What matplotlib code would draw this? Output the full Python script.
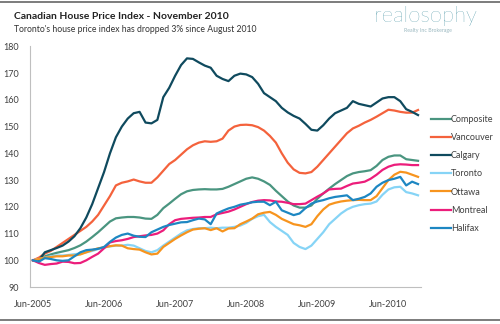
import numpy as np
import matplotlib
matplotlib.use("Agg")
from matplotlib import pyplot as plt
from matplotlib.lines import Line2D

plt.rcParams['font.family'] = ['Lato', 'DejaVu Sans']

# monthly index, Jun-2005 .. Nov-2010 (66 months), Jun-2005 = 100
composite = [100, 100.5, 101.5, 102.2, 102.8, 103.3, 103.8, 104.6, 105.6, 107, 108.7, 110.5,
             112.5, 114.5, 115.7, 116, 116.2, 116.2, 116, 115.6, 115.5, 117, 119.5, 121.2,
             123, 124.7, 125.8, 126.3, 126.5, 126.6, 126.5, 126.5, 126.7, 127.5, 128.5, 129.5,
             130.5, 131, 130.5, 129.5, 128.2, 126, 124, 122, 120.5, 119.7, 119.7, 120.5,
             123, 125, 126.8, 128.5, 130, 131.5, 132.5, 133, 133.3, 133.7, 135.3, 137.5,
             138.7, 139.2, 139.2, 137.8, 137.5, 137.2]
vancouver = [100, 101, 102.5, 103.5, 105, 106.5, 108, 109.5, 111, 112.5, 114.5, 117,
             120.5, 124, 128, 129, 129.5, 130.2, 129.5, 129, 129, 131, 133.5, 136,
             137.5, 139.5, 141.5, 143, 144, 144.5, 144.3, 144.5, 145.5, 148.5, 150, 150.6,
             150.7, 150.5, 149.8, 148.5, 146.5, 144, 140, 136.5, 134, 132.7, 132.5, 133,
             135, 137.5, 140, 142.5, 145, 147.5, 149.3, 150.3, 151.5, 152.5, 153.7, 155,
             156.3, 156, 155.5, 155.2, 155.2, 156.2]
calgary = [100, 100, 103, 103.8, 104.6, 105.5, 107, 109, 112, 116, 121, 127,
           133, 140, 146, 150, 153, 155, 155.5, 151.5, 151.2, 152.5, 161, 164.5,
           169, 173, 175.5, 175.3, 174, 172.8, 172, 169, 167.8, 167, 169, 169.8,
           169.5, 168.5, 166, 162.5, 161, 159.5, 157, 155.3, 154, 153, 151, 148.8,
           148.5, 150.5, 153, 155, 156, 157, 159.5, 158.5, 158, 157.5, 159, 160.5,
           161, 161, 159.5, 156.5, 155.5, 154.3]
toronto = [100, 100.5, 101, 101.5, 101.8, 101.8, 102, 102.3, 102.5, 103, 103.5, 104.2,
           104.8, 105.2, 105.5, 105.5, 105.8, 105.5, 104.5, 103.5, 103, 103.8, 105.5, 107,
           108.5, 110, 111.2, 111.7, 112, 112, 112.2, 112, 112.2, 112.2, 112.5, 113,
           114, 115.5, 116.5, 117, 114.3, 112.5, 111, 109.5, 106.5, 105, 104.2, 105.5,
           108, 110.5, 113.5, 115.5, 117.5, 119, 120, 120.6, 121, 121.2, 122, 124.5,
           126.5, 127.3, 127.5, 125.5, 125, 124.3]
ottawa = [100, 100.5, 101, 101.2, 101.5, 101.5, 101.8, 101.8, 102.2, 103, 103.8, 104.5,
          104.8, 105.3, 105.6, 105.5, 104.5, 104.2, 104, 103, 102.2, 102.5, 105, 106.5,
          108, 109.3, 110.5, 111.5, 111.8, 112, 111.3, 112, 110.8, 111.9, 112, 113.5,
          114.5, 115.6, 117.2, 117.8, 118.1, 117, 115.5, 114.5, 113.5, 113.1, 112.5, 113.5,
          116.5, 119, 120.8, 121.5, 122, 122.3, 122.5, 122.6, 122.5, 122.5, 124, 127,
          130, 132, 133.1, 132.8, 132, 131.2]
montreal = [100, 99, 98.3, 98.6, 98.8, 99.5, 99.4, 98.9, 99, 100, 101.3, 102.5,
            104.5, 106.7, 107.2, 107.5, 108, 108.7, 109, 109.3, 109.5, 110, 111.2, 113.5,
            115, 115.5, 115.7, 115.9, 116, 116.2, 116.2, 117.2, 117.7, 118.2, 119, 120,
            121, 121.8, 122.3, 122.5, 122.4, 122, 121.9, 121.5, 121, 121, 121.2, 122.5,
            123.8, 125, 126.5, 126.7, 126.8, 127.8, 128.7, 129, 129.4, 130.5, 132, 133.8,
            135, 135.7, 135.9, 135.8, 135.6, 135.6]
halifax = [100, 99.5, 100.8, 100.5, 100, 99.8, 100, 101.5, 103, 103.8, 104, 104.3,
           105, 106.9, 108.5, 109.5, 110, 109.2, 108.8, 108.7, 110.5, 111.5, 112.5, 113.2,
           113.7, 114.2, 114.3, 115, 115.6, 115.3, 113.5, 117.5, 118.5, 119.4, 120, 120.8,
           121.2, 121.7, 121.9, 121.9, 120.6, 121.9, 118.7, 117.8, 116.9, 117.5, 119.5, 121.2,
           122, 122.5, 123.2, 123.7, 124, 124.3, 122.5, 123, 123.7, 125, 127.5, 129,
           130, 130.5, 131.2, 128, 129.4, 128.5]

names = ['Composite', 'Vancouver', 'Calgary', 'Toronto', 'Ottawa', 'Montreal', 'Halifax']
colors = ['#4A9580', '#F4623C', '#0F4A5E', '#86D4F6', '#F7941E', '#EC1D7B', '#1D87C2']
series = [composite, vancouver, calgary, toronto, ottawa, montreal, halifax]

tick_months = [0, 12, 24, 36, 48, 60]
tick_labels = ['Jun-2005', 'Jun-2006', 'Jun-2007', 'Jun-2008', 'Jun-2009', 'Jun-2010']

fig = plt.figure(figsize=(5, 3.24), dpi=100)
ax = fig.add_axes([0.06, 0.114, 0.782, 0.743])

months = np.arange(len(composite))
for name, c, vals in zip(names, colors, series):
    ax.plot(months, vals, color=c, lw=1.6, label=name, solid_joinstyle='round')

ax.set_xlim(-0.5, 65.5)
ax.set_ylim(90, 180)
ax.set_yticks(range(90, 181, 10))
ax.set_xticks(tick_months)
ax.set_xticklabels(tick_labels)
ax.tick_params(length=0, labelsize=6.5, colors='#404040', pad=9)
ax.tick_params(axis='y', pad=8)
for s in ['top', 'right']:
    ax.spines[s].set_visible(False)
ax.spines['left'].set_color('#BFBFBF')
ax.spines['bottom'].set_color('#BFBFBF')

handles = [Line2D([0], [0], color=c, lw=1.6) for c in colors]
ax.legend(handles, names, loc='center left', bbox_to_anchor=(1.005, 0.47), frameon=False,
          fontsize=6.5, handlelength=2.2, handletextpad=0.0, labelspacing=1.02,
          labelcolor='#404040')

fig.text(0.028, 0.95, 'Canadian House Price Index - November 2010', fontsize=7.5,
         fontweight='bold', color='#222222', va='center')
fig.text(0.028, 0.91, "Toronto's house price index has dropped 3% since August 2010",
         fontsize=6.2, color='#333333', va='center')
fig.text(0.748, 0.95, 'realosophy', fontsize=16, color='#1C7A8E', va='center',
         fontweight='light')
fig.text(0.855, 0.907, 'Realty Inc Brokerage', fontsize=3.8, color='#9AB8C0', va='center',
         ha='center')

fig.add_artist(Line2D([0, 1], [0.993, 0.993], color='#666666', lw=1.2))
fig.add_artist(Line2D([0, 1], [0.013, 0.013], color='#666666', lw=1.2))

fig.savefig('out.png', dpi=100, facecolor='white')
